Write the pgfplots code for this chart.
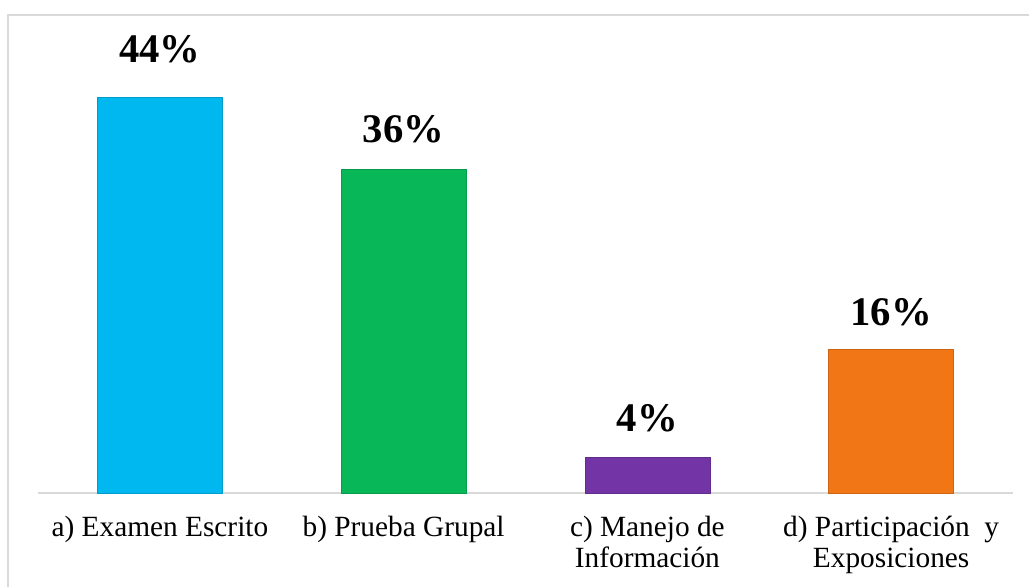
\documentclass[border=0pt]{standalone}
\usepackage{pgfplots}
\pgfplotsset{compat=1.18}
\usepackage{fontspec}
\setmainfont{Liberation Serif}[Ligatures=TeX]
\definecolor{barcyan}{RGB}{0,184,240}
\definecolor{bargreen}{RGB}{8,183,88}
\definecolor{barpurple}{RGB}{115,52,165}
\definecolor{barorange}{RGB}{240,118,22}
\definecolor{linegray}{RGB}{217,217,217}
\begin{document}
\begin{tikzpicture}
\useasboundingbox (0,0) rectangle (771.75pt,439.5pt);
\clip (0,0) rectangle (771.75pt,439.5pt);
\draw[linegray, line width=1.5pt] (6pt,428.25pt) rectangle (790pt,-20pt);
\begin{axis}[
  at={(28.5pt,69.75pt)}, anchor=south west, scale only axis,
  width=731.25pt, height=337.5pt,
  xmin=-0.5, xmax=3.5, ymin=0, ymax=50,
  axis x line*=bottom, axis y line=none,
  axis line style={draw=linegray, line width=1.5pt, -},
  xtick={0,1,2,3},
  xticklabels={
    {\begin{tabular}[t]{@{}c@{}}a) Examen Escrito\end{tabular}},
    {\begin{tabular}[t]{@{}c@{}}b) Prueba Grupal\end{tabular}},
    {\begin{tabular}[t]{@{}c@{}}c) Manejo de\\Información\end{tabular}},
    {\begin{tabular}[t]{@{}c@{}}d) Participación~~y\\Exposiciones\end{tabular}}},
  major tick length=0pt, ytick=\empty,
  xticklabel style={anchor=base, yshift=-33pt, inner sep=0pt, font=\rmfamily\fontsize{22}{23.25}\selectfont},
  ybar, bar width=93.75pt, bar shift=0pt, clip=false,
  nodes near coords={\pgfmathprintnumber[assume math mode=true]{\pgfplotspointmeta}\%},
  every node near coord/.append style={font=\rmfamily\fontsize{30.5}{36}\selectfont\bfseries, anchor=base, inner sep=0pt, text=black},
]
\addplot[fill=barcyan, draw=barcyan!85!black, every node near coord/.append style={yshift=26.25pt}] coordinates {(0,44)};
\addplot[fill=bargreen, draw=bargreen!85!black, every node near coord/.append style={yshift=20.25pt}] coordinates {(1,36)};
\addplot[fill=barpurple, draw=barpurple!85!black, every node near coord/.append style={yshift=19.5pt}] coordinates {(2,4)};
\addplot[fill=barorange, draw=barorange!85!black, every node near coord/.append style={yshift=18pt}] coordinates {(3,16)};
\end{axis}
\end{tikzpicture}
\end{document}
